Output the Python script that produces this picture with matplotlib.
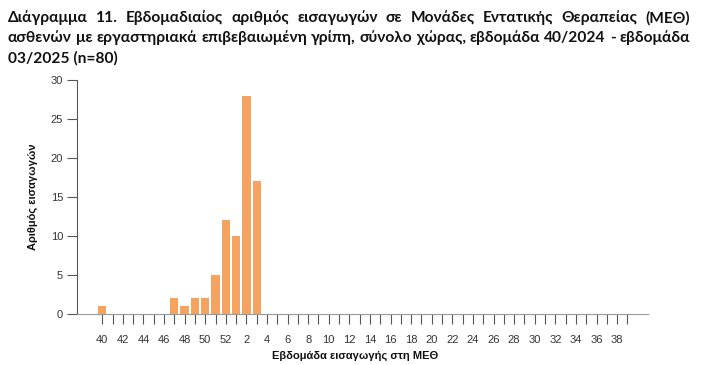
import matplotlib
matplotlib.use("Agg")
import matplotlib.pyplot as plt

weeks = list(range(40, 53)) + list(range(1, 40))
admissions = [1, 0, 0, 0, 0, 0, 0, 2, 1, 2, 2, 5, 12,
              10, 28, 17] + [0] * 36
yticks = [0, 5, 10, 15, 20, 25, 30]
title_lines = [
    "Διάγραμμα 11. Εβδομαδιαίος αριθμός εισαγωγών σε Μονάδες Εντατικής Θεραπείας (ΜΕΘ)",
    "ασθενών με εργαστηριακά επιβεβαιωμένη γρίπη, σύνολο χώρας, εβδομάδα 40/2024 - εβδομάδα",
    "03/2025 (n=80)",
]
xlabel = "Εβδομάδα εισαγωγής στη ΜΕΘ"
ylabel = "Αριθμός εισαγωγών"

plt.rcParams['font.family'] = ['Liberation Sans', 'DejaVu Sans']

fig = plt.figure(figsize=(7.03, 3.65), dpi=100)
ax = fig.add_axes([77/703, 1-314/365, (648-77)/703, (314-80)/365])

x = list(range(len(weeks)))
ax.bar(x, admissions, width=0.8, color='#F4A460', zorder=2)
ax.set_xlim(-2.45, 53.0)
ax.set_ylim(0, 30)
ax.set_yticks(yticks)
ax.set_xticks(x)
ax.set_xticklabels([str(w) if i % 2 == 0 else "" for i, w in enumerate(weeks)])
for s in ['top', 'right']:
    ax.spines[s].set_visible(False)
ax.spines['left'].set_color('#555555')
ax.spines['bottom'].set_color('#999999')
ax.spines['left'].set_linewidth(0.8)
ax.spines['bottom'].set_linewidth(0.8)
ax.tick_params(axis='both', length=7, width=0.8, color='#555555',
               labelsize=8, labelcolor='#333333')
ax.tick_params(axis='x', pad=8)
ax.tick_params(axis='y', pad=3)
ax.set_xlabel(xlabel, fontsize=8, fontweight='bold', color='#111111', va='center')
ax.set_ylabel(ylabel, fontsize=8, fontweight='bold', color='#111111', va='center')
ax.xaxis.set_label_coords((355-77)/(648-77), -(356-314)/(314-80))
ax.yaxis.set_label_coords(-(77-33)/(648-77), 0.5)

# justified title
tfont = dict(fontsize=11.2, fontweight='bold', family=['Lato', 'DejaVu Sans'], color='#111111')
left_px, right_px = 8, 690
tops = [18, 38, 58]
renderer = fig.canvas.get_renderer()
for li, line in enumerate(title_lines):
    ypix = 365 - tops[li]
    if li < 2:
        words = line.split(" ")
        texts = [fig.text(0, ypix/365, w, va='center', ha='left', **tfont) for w in words]
        widths = [t.get_window_extent(renderer).width for t in texts]
        gap = (right_px - left_px - sum(widths)) / (len(words) - 1)
        pos = left_px
        for t, w in zip(texts, widths):
            t.set_x(pos/703)
            pos += w + gap
    else:
        fig.text(left_px/703, ypix/365, line, va='center', ha='left', **tfont)

fig.savefig("out.png", dpi=100)
